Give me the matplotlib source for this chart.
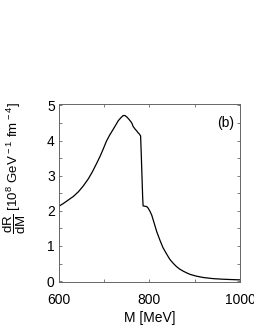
import matplotlib
matplotlib.use("Agg")
import matplotlib.pyplot as plt
from matplotlib.ticker import MultipleLocator

plt.rcParams.update({
    "font.family": "Liberation Sans",
    "mathtext.fontset": "custom",
    "mathtext.rm": "Liberation Sans",
    "mathtext.it": "Liberation Sans:italic",
    "font.size": 10,
})

# invariant mass [MeV] and dR/dM [1e8 GeV^-1 fm^-4]
mass = [600, 610, 620, 632, 643, 654, 665, 674, 683, 691, 698, 705, 712,
        720, 726, 731, 737, 742, 746, 750, 755, 761, 764, 768, 772, 775,
        778, 780.5, 782, 783.5, 785, 786, 790, 794, 797, 801, 805, 810,
        816, 823, 830, 838, 845, 853, 860, 867, 875, 883, 890, 904, 920,
        941, 960, 978, 1000]
rate = [2.13, 2.21, 2.30, 2.41, 2.54, 2.71, 2.91, 3.11, 3.34, 3.55, 3.76,
        3.98, 4.15, 4.32, 4.45, 4.56, 4.65, 4.71, 4.71, 4.67, 4.60, 4.50,
        4.40, 4.33, 4.27, 4.22, 4.18, 4.13, 3.60, 3.00, 2.40, 2.14, 2.13,
        2.12, 2.08, 1.99, 1.88, 1.67, 1.41, 1.17, 0.95, 0.77, 0.62, 0.50,
        0.41, 0.34, 0.28, 0.23, 0.19, 0.14, 0.10, 0.07, 0.055, 0.045, 0.035]

fig = plt.figure(figsize=(2.55, 3.3), dpi=100)
ax = fig.add_axes([0.231, 0.145, 0.71, 0.54])
ax.plot(mass, rate, color="black", linewidth=0.9)

ax.set_xlim(600, 1000)
ax.set_ylim(-0.03, 5.04)
ax.xaxis.set_major_locator(MultipleLocator(200))
ax.xaxis.set_minor_locator(MultipleLocator(100))
ax.yaxis.set_major_locator(MultipleLocator(1))
ax.yaxis.set_minor_locator(MultipleLocator(0.5))
ax.tick_params(which="both", direction="in", top=True, right=True,
               width=0.6, length=2, color="#666666", labelsize=10)
ax.tick_params(axis="x", which="major", pad=8)
ax.tick_params(axis="y", which="major", pad=3)
for s in ax.spines.values():
    s.set_linewidth(0.7)
    s.set_color("#666666")

ax.set_xlabel("M [MeV]", fontsize=10, labelpad=3)
fig.text(0.06, 0.49,
         r"$\dfrac{\mathrm{dR}}{\mathrm{dM}}$ [10$^{8}$ GeV$^{\,-1}$ fm$^{\,-4}$]",
         rotation=90, ha="center", va="center", fontsize=9.5)
ax.text(0.97, 0.93, "(b)", transform=ax.transAxes, ha="right", va="top",
        fontsize=10)

fig.savefig("out.png", dpi=100)
